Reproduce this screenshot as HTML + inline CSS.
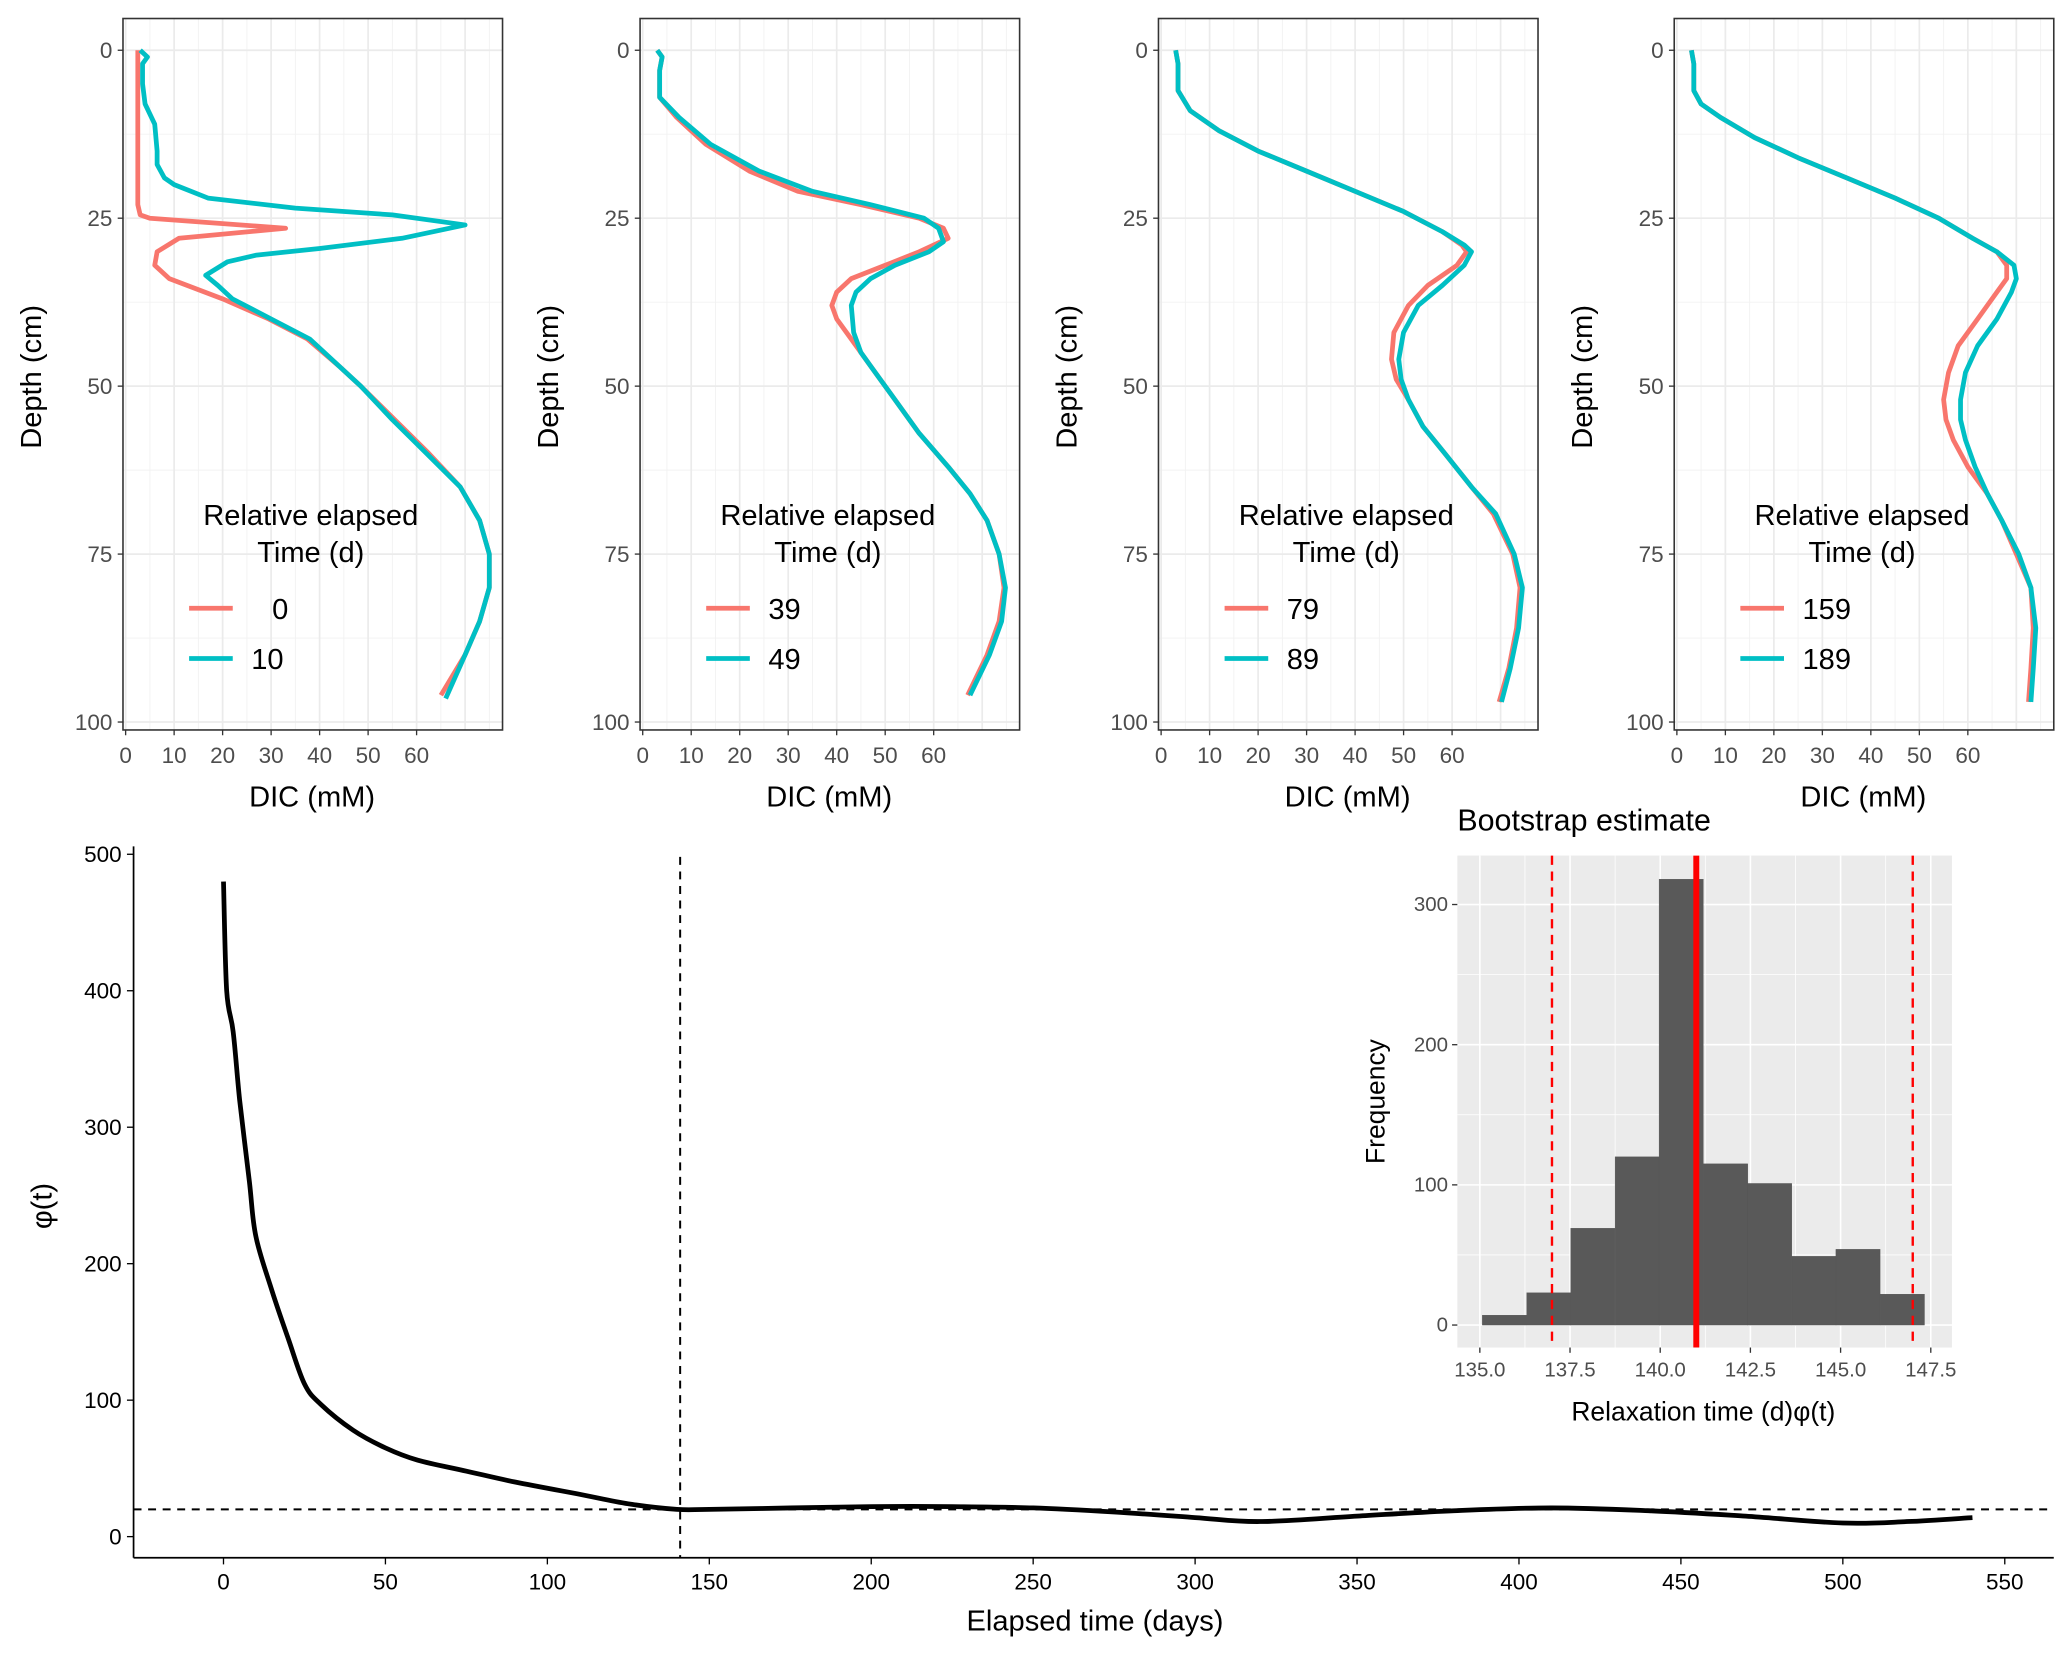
<!DOCTYPE html>
<html><head><meta charset="utf-8"><style>
html,body{margin:0;padding:0;background:#fff;}
svg{display:block;font-family:"Liberation Sans",Arial,sans-serif;}
</style></head><body>
<svg id="fig" width="2067" height="1653" viewBox="0 0 1563 1250" preserveAspectRatio="none" xmlns="http://www.w3.org/2000/svg"></svg>
<script>
// ---------- DATA ----------
const panelLabels = [["0","10"],["39","49"],["79","89"],["159","189"]];
const depthRed1 = [0,5,10,15,20,23,24.5,25,26.5,28,30,32,34,37,40,43,47,50,55,60,65,70,75,80,85,90,96];
const dicRed1   = [2.5,2.5,2.5,2.5,2.5,2.5,3,5,33,11,6.5,6,9,20,29.5,37.5,44,48.5,55.5,62.5,69,73,75,75,73,70,65];
const depthCyan1 = [0,1,2,5,8,11,15,17,19,20,22,23.5,24.5,26,28,29.5,30.5,31.5,33.5,35,37,40,43,47,50,55,60,65,70,75,80,85,90,96.5];
const dicCyan1   = [3,4.5,3.5,3.5,4,6,6.5,6.5,8,10,17,35,55,70,57,40,27,21,16.5,19,22,30,38,44,48.5,55,62,69,73,75,75,73,70,66];
const depthRed2 = [0,1,3,7,10,14,18,21,23,25,26.5,28,30,32,34,36,38,40,43,47,52,57,62,66,70,75,80,85,90,96];
const dicRed2   = [3,4,3.5,3.5,7,13,22,32,45,57,62,63,57,50,43,40,39,40,43,47,52,57,63,67.5,71,73.5,74.5,73.5,71,67];
const depthCyan2 = [0,1,3,7,10,14,18,21,23,25,26.5,28.5,30,32,34,36,38,42,45,47,52,57,62,66,70,75,80,85,90,96];
const dicCyan2   = [3,4,3.5,3.5,7.5,14,24,35,47,58,61,62,59,52,47,44,43,43.5,45,47,52,57,63,67.5,71,73.5,74.8,74,71.5,67.5];
const depthRed3 = [0,2,6,9,12,15,18,21,24,27,29,30,32,35,38,42,46,49,52,56,60,65,69,75,80,86,92,97];
const dicRed3   = [3,3.5,3.5,6,12,20,30,40,50,58,62,63,61,55,51,48,47.5,48.5,51,54,58.5,64,68.5,72.5,74,73.3,71.7,69.7];
const depthCyan3 = [0,2,6,9,12,15,18,21,24,27,29,30,32,35,38,42,46,49,52,56,60,65,69,75,80,86,92,97];
const dicCyan3   = [3,3.5,3.5,6,12,20,30,40,50,58,62.5,64,62.5,58,53,50,49,49.5,51,54,58.5,64,69,72.8,74.5,73.7,72,70.2];
const depthRed4 = [0,2,6,8,10,13,16,19,22,25,28,30,32,34,36,40,44,48,52,55,58,62,66,70,75,80,86,92,97];
const dicRed4   = [3,3.5,3.5,5,9,16,25,35,45,54,61,66,68,68,66,62,58,56,55,55.5,57,60,64,67,70,73,73.5,73,72.5];
const depthCyan4 = [0,2,6,8,10,13,16,19,22,25,28,30,32,34,36,40,44,48,52,55,58,62,66,70,75,80,86,92,97];
const dicCyan4   = [3,3.5,3.5,5,9,16,25,35,45,54,61,66,69.5,70,69,66,62,59.5,58.5,58.5,59.5,61.5,64,67,70.5,73,74,73.5,73];
const panelRed  = [[depthRed1,dicRed1],[depthRed2,dicRed2],[depthRed3,dicRed3],[depthRed4,dicRed4]];
const panelCyan = [[depthCyan1,dicCyan1],[depthCyan2,dicCyan2],[depthCyan3,dicCyan3],[depthCyan4,dicCyan4]];
const dicTicks = [0,10,20,30,40,50,60];
const depthTicks = [0,25,50,75,100];

const phiDays = [0,1,3,5,8,10,15,20,25,30,40,50,60,75,90,110,125,140,150,175,200,225,250,275,300,320,350,380,410,440,470,500,520,540];
const phiVals = [480,400,370,320,260,220,180,145,112,97,78,65,56,48,40,31,24,20,20,21,22,22,21,18,14,11,15,19,21,19,15,10,11,14];
const phiXTicks = [0,50,100,150,200,250,300,350,400,450,500,550];
const phiYTicks = [0,100,200,300,400,500];
const relaxTime = 141;
const phiThreshold = 20;

const binStarts = [135.07,136.3,137.52,138.75,139.97,141.2,142.42,143.65,144.87,146.1];
const binWidth = 1.225;
const binCounts = [7,23,69,120,318,115,101,49,54,22];
const histXTicks = ["135.0","137.5","140.0","142.5","145.0","147.5"];
const histYTicks = [0,100,200,300];
const ciLow = 137, ciHigh = 147, estimate = 141;

// ---------- HELPERS ----------
const NS="http://www.w3.org/2000/svg";
const svg=document.getElementById('fig');
function el(tag,attrs,parent,text){const e=document.createElementNS(NS,tag);for(const k in attrs)e.setAttribute(k,attrs[k]);if(text!==undefined)e.textContent=text;(parent||svg).appendChild(e);return e;}
function pathD(xs,ys){return xs.map((x,i)=>(i?'L':'M')+x.toFixed(1)+','+ys[i].toFixed(1)).join('');}
function smoothD(xs,ys){let d='M'+xs[0].toFixed(1)+','+ys[0].toFixed(1);
  for(let i=0;i<xs.length-1;i++){const i0=Math.max(0,i-1),i3=Math.min(xs.length-1,i+2);
    const c1x=xs[i]+(xs[i+1]-xs[i0])/6,c1y=ys[i]+(ys[i+1]-ys[i0])/6;
    const c2x=xs[i+1]-(xs[i3]-xs[i])/6,c2y=ys[i+1]-(ys[i3]-ys[i])/6;
    d+='C'+c1x.toFixed(1)+','+c1y.toFixed(1)+' '+c2x.toFixed(1)+','+c2y.toFixed(1)+' '+xs[i+1].toFixed(1)+','+ys[i+1].toFixed(1);}
  return d;}

// ---------- DEPTH PANELS ----------
const offsets=[0,391,783,1173];
for(let p=0;p<4;p++){
  const g=el('g',{});
  
  
  const o=offsets[p];
  const L=93+o,R=380+o,T=14,B=552;
  const sx=v=>95+o+v*3.667;
  const sy=d=>38+d*5.08;
  for(let v=5;v<=75;v+=10){el('line',{x1:sx(v),x2:sx(v),y1:T,y2:B,stroke:'#f2f2f2','stroke-width':0.7},g);}
  for(let d=12.5;d<100;d+=25){el('line',{x1:L,x2:R,y1:sy(d),y2:sy(d),stroke:'#f2f2f2','stroke-width':0.7},g);}
  dicTicks.forEach(v=>el('line',{x1:sx(v),x2:sx(v),y1:T,y2:B,stroke:'#ebebeb','stroke-width':1.3},g));
  el('line',{x1:sx(70),x2:sx(70),y1:T,y2:B,stroke:'#ebebeb','stroke-width':1.3},g);
  depthTicks.forEach(d=>el('line',{x1:L,x2:R,y1:sy(d),y2:sy(d),stroke:'#ebebeb','stroke-width':1.3},g));
  const r=panelRed[p],c=panelCyan[p];
  const lr=el('path',{d:pathD(r[1].map(sx),r[0].map(sy)),fill:'none',stroke:'#F8766D','stroke-width':3.6,'stroke-linejoin':'round'},g);
  
  
  const lc=el('path',{d:pathD(c[1].map(sx),c[0].map(sy)),fill:'none',stroke:'#00BFC4','stroke-width':3.6,'stroke-linejoin':'round'},g);
  
  
  el('rect',{x:L,y:T,width:R-L,height:B-T,fill:'none',stroke:'#333','stroke-width':1.2},g);
  dicTicks.forEach(v=>{el('line',{x1:sx(v),x2:sx(v),y1:B,y2:B+4,stroke:'#333','stroke-width':1},g);
    el('text',{x:sx(v),y:B+25,'text-anchor':'middle','font-size':17,fill:'#4d4d4d'},g,v);});
  depthTicks.forEach(d=>{el('line',{x1:L-4,x2:L,y1:sy(d),y2:sy(d),stroke:'#333','stroke-width':1},g);
    el('text',{x:L-8,y:sy(d)+6,'text-anchor':'end','font-size':17,fill:'#4d4d4d'},g,d);});
  const xt=el('text',{x:236+o,y:610,'text-anchor':'middle','font-size':22},g,'DIC (mM)');
  
  const yt=el('text',{x:0,y:0,'text-anchor':'middle','font-size':22,transform:`translate(${31+o},285) rotate(-90)`},g,'Depth (cm)');
  
  const lg=el('g',{},g);
  
  el('text',{x:235+o,y:397,'text-anchor':'middle','font-size':22},lg,'Relative elapsed');
  el('text',{x:235+o,y:425,'text-anchor':'middle','font-size':22},lg,'Time (d)');
  el('line',{x1:143+o,x2:176+o,y1:460,y2:460,stroke:'#F8766D','stroke-width':3.6},lg);
  el('line',{x1:143+o,x2:176+o,y1:498,y2:498,stroke:'#00BFC4','stroke-width':3.6},lg);
  el('text',{x:(p==0?218:190)+o,y:468,'text-anchor':p==0?'end':'start','font-size':22},lg,panelLabels[p][0]);
  el('text',{x:190+o,y:506,'font-size':22},lg,panelLabels[p][1]);
}

// ---------- PHI PLOT ----------
const pg=el('g',{});


const px=v=>169+v*2.449, py=v=>1162-v*1.032;
el('line',{x1:101,x2:101,y1:640,y2:1178,stroke:'#000','stroke-width':1.3},pg);
el('line',{x1:101,x2:1553,y1:1178,y2:1178,stroke:'#000','stroke-width':1.3},pg);
phiXTicks.forEach(v=>{el('line',{x1:px(v),x2:px(v),y1:1178,y2:1183,stroke:'#000','stroke-width':1},pg);
  el('text',{x:px(v),y:1202,'text-anchor':'middle','font-size':17},pg,v);});
phiYTicks.forEach(v=>{el('line',{x1:96,x2:101,y1:py(v),y2:py(v),stroke:'#000','stroke-width':1},pg);
  el('text',{x:92,y:py(v)+6,'text-anchor':'end','font-size':17},pg,v);});
const vl=el('line',{x1:px(relaxTime),x2:px(relaxTime),y1:648,y2:1178,stroke:'#000','stroke-width':1.5,'stroke-dasharray':'6,5'},pg);

const hl=el('line',{x1:101,x2:1553,y1:py(phiThreshold),y2:py(phiThreshold),stroke:'#000','stroke-width':1.5,'stroke-dasharray':'6,5'},pg);

const pc=el('path',{d:smoothD(phiDays.map(px),phiVals.map(py)),fill:'none',stroke:'#000','stroke-width':3.6,'stroke-linejoin':'round'},pg);

el('text',{x:828,y:1233,'text-anchor':'middle','font-size':22},pg,'Elapsed time (days)');
el('text',{x:0,y:0,'text-anchor':'middle','font-size':22,transform:'translate(39,912) rotate(-90)'},pg,'φ(t)');

// ---------- HISTOGRAM INSET ----------
const hg=el('g',{});


const hx=v=>1119+(v-135)*27.28, hy=v=>1002-v*1.06;
el('rect',{x:1102,y:647,width:374,height:372,fill:'#ebebeb'},hg);
for(let v=136.25;v<148;v+=2.5)el('line',{x1:hx(v),x2:hx(v),y1:647,y2:1019,stroke:'#fff','stroke-width':0.6},hg);
for(let v=50;v<=350;v+=100)el('line',{x1:1102,x2:1476,y1:hy(v),y2:hy(v),stroke:'#fff','stroke-width':0.6},hg);
histXTicks.forEach(t=>el('line',{x1:hx(+t),x2:hx(+t),y1:647,y2:1019,stroke:'#fff','stroke-width':1.2},hg));
histYTicks.forEach(v=>el('line',{x1:1102,x2:1476,y1:hy(v),y2:hy(v),stroke:'#fff','stroke-width':1.2},hg));
binCounts.forEach((c,i)=>{const b=el('rect',{x:hx(binStarts[i]),y:hy(c),width:binWidth*27.28,height:hy(0)-hy(c),fill:'#595959',stroke:'#555','stroke-width':0.3},hg);
  });
[ciLow,ciHigh].forEach(v=>el('line',{x1:hx(v),x2:hx(v),y1:647,y2:1019,stroke:'#ff0000','stroke-width':1.8,'stroke-dasharray':'7,5'},hg));
el('line',{x1:hx(estimate),x2:hx(estimate),y1:647,y2:1019,stroke:'#ff0000','stroke-width':4.5},hg);
histXTicks.forEach(t=>{el('line',{x1:hx(+t),x2:hx(+t),y1:1019,y2:1023,stroke:'#333','stroke-width':1},hg);
  el('text',{x:hx(+t),y:1041,'text-anchor':'middle','font-size':15.5,fill:'#4d4d4d'},hg,t);});
histYTicks.forEach(v=>{el('line',{x1:1098,x2:1102,y1:hy(v),y2:hy(v),stroke:'#333','stroke-width':1},hg);
  el('text',{x:1095,y:hy(v)+5,'text-anchor':'end','font-size':15.5,fill:'#4d4d4d'},hg,v);});
el('text',{x:1102,y:628,'font-size':23},hg,'Bootstrap estimate');
el('text',{x:1288,y:1074,'text-anchor':'middle','font-size':20},hg,'Relaxation time (d)φ(t)');
el('text',{x:0,y:0,'text-anchor':'middle','font-size':20,transform:'translate(1047,833) rotate(-90)'},hg,'Frequency');
</script>
</body></html>
